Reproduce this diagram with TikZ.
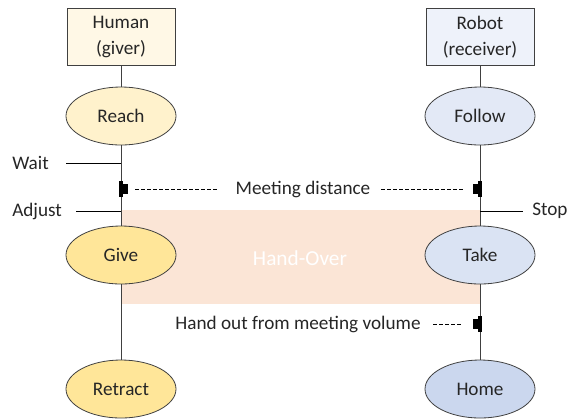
\documentclass[tikz,border=0pt]{standalone}
\usepackage{fontspec}
\setmainfont{Carlito}
\usetikzlibrary{shapes.geometric}
\definecolor{lineg}{HTML}{404040}
\definecolor{hbox}{HTML}{FFF8E6}
\definecolor{hreach}{HTML}{FFF2CC}
\definecolor{hgive}{HTML}{FFE699}
\definecolor{rbox}{HTML}{EEF2FA}
\definecolor{rfollow}{HTML}{E3E9F6}
\definecolor{rtake}{HTML}{DAE3F3}
\definecolor{rhome}{HTML}{CBD7EE}
\definecolor{hover}{HTML}{FBE5D6}
\definecolor{txt}{HTML}{262626}
\tikzset{
  actorbox/.style={draw=lineg, line width=0.6pt, rectangle, minimum width=81pt, minimum height=42.75pt, inner sep=0pt, align=center, font=\fontsize{14.4pt}{19pt}\selectfont, text=txt},
  state/.style={draw=lineg, line width=0.6pt, ellipse, minimum width=82.5pt, minimum height=43.5pt, inner sep=0pt, font=\fontsize{14.4pt}{17pt}\selectfont, text=txt},
  life/.style={draw=lineg, line width=0.6pt},
  lbl/.style={font=\fontsize{14.4pt}{17pt}\selectfont, text=txt, inner sep=0pt},
  tick/.style={draw=black, line width=0.6pt},
  dsh/.style={draw=black, line width=0.5pt, dash pattern=on 3pt off 1.5pt},
  markfill/.style={fill=black}
}
\begin{document}
\begin{tikzpicture}[x=0.75pt,y=-0.75pt]
\useasboundingbox (0,0) rectangle (581,419);
% hand-over region
\fill[hover] (121,210) rectangle (480,304);
\node[lbl, text=white, font=\fontsize{16pt}{19pt}\selectfont] (ho) at (300,258) {Hand-Over};
% actors
\node[actorbox, fill=hbox] (human) at (121,37) {Human\\(giver)};
\node[actorbox, fill=rbox] (robot) at (480,37) {Robot\\(receiver)};
% states
\node[state, fill=hreach] (reach) at (121,116) {Reach};
\node[state, fill=hgive] (give) at (121,255) {Give};
\node[state, fill=hgive] (retract) at (121,389) {Retract};
\node[state, fill=rfollow] (follow) at (480,116) {Follow};
\node[state, fill=rtake] (take) at (480,255) {Take};
\node[state, fill=rhome] (home) at (480,389) {Home};
% lifelines
\draw[life] (human) -- (reach);
\draw[life] (reach) -- (give);
\draw[life] (give) -- (retract);
\draw[life] (robot) -- (follow);
\draw[life] (follow) -- (take);
\draw[life] (take) -- (home);
% side labels
\node[lbl, anchor=west] (wait) at (12,163) {Wait};
\node[lbl, anchor=west] (adjust) at (12,211) {Adjust};
\node[lbl, anchor=west] (stop) at (532,211) {Stop};
\coordinate (waitL) at (66,163);
\coordinate (waitR) at (121,163);
\coordinate (adjL) at (76,211);
\coordinate (adjR) at (121,211);
\coordinate (stopL) at (480,211);
\coordinate (stopR) at (523,211);
\draw[tick] (waitL) -- (waitR);
\draw[tick] (adjL) -- (adjR);
\draw[tick] (stopL) -- (stopR);
% markers
\fill[markfill] (119,181) rectangle (123,197);
\fill[markfill] (123,184) rectangle (128,194);
\fill[markfill] (478,181) rectangle (482,197);
\fill[markfill] (473,184) rectangle (478,194);
\fill[markfill] (478,316) rectangle (482,332);
\fill[markfill] (473,319) rectangle (478,329);
% meeting distance
\node[lbl] (md) at (303,189) {Meeting distance};
\coordinate (md1) at (135,189);
\coordinate (md2) at (218,189);
\coordinate (md3) at (381,189);
\coordinate (md4) at (463,189);
\draw[dsh] (md1) -- (md2);
\draw[dsh] (md3) -- (md4);
% hand out
\node[lbl] (hv) at (298,324) {Hand out from meeting volume};
\coordinate (hv1) at (433,324);
\coordinate (hv2) at (463,324);
\draw[dsh] (hv1) -- (hv2);
\end{tikzpicture}
\end{document}
